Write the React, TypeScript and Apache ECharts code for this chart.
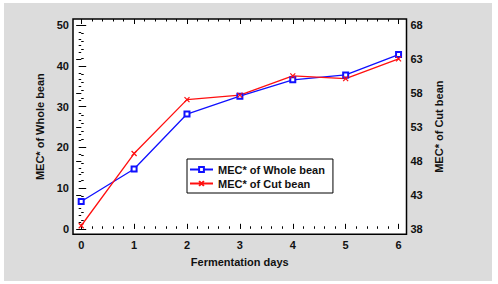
import React, { useEffect, useRef } from "react";
import * as echarts from "echarts";

const days = [0, 1, 2, 3, 4, 5, 6];
const wholeBean = [6.7, 14.7, 28.2, 32.6, 36.6, 37.8, 42.8];
const cutBean = [38.45, 49.1, 57.05, 57.7, 60.55, 60.13, 63.05];
const leftTicks = [0, 10, 20, 30, 40, 50];
const rightTicks = [38, 43, 48, 53, 58, 63, 68];
const xTicks = [0, 1, 2, 3, 4, 5, 6];

const FONT = "Arial, 'Liberation Sans', sans-serif";

function range(a: number, b: number, step: number): number[] {
  const out: number[] = [];
  for (let v = a; v <= b + 1e-9; v += step) out.push(Math.round(v * 1000) / 1000);
  return out;
}

const xMinor = range(0, 6.0, 0.2);
const leftMinor = range(0, 50, 2);
const rightMinor = range(38, 68, 1);

const X_MIN = -0.155;
const X_MAX = 6.15;
const L_MIN = -1.35;
const L_MAX = 51.55;
const R_MIN = 38 + 0.6 * L_MIN;
const R_MAX = 38 + 0.6 * L_MAX;

const labelStyle = {
  color: "#111",
  fontFamily: FONT,
  fontWeight: "bold" as const,
  fontSize: 11,
};

function tickAxisX(position: "top" | "bottom", values: number[], len: number, labels: boolean, extra: any = {}) {
  return {
    type: "value",
    position,
    min: X_MIN,
    max: X_MAX,
    axisLine: { show: false },
    splitLine: { show: false },
    axisTick: {
      show: true,
      inside: true,
      length: len,
      customValues: values,
      lineStyle: { color: "#000", width: 1 },
    },
    axisLabel: labels
      ? { show: true, customValues: xTicks, margin: 5, ...labelStyle }
      : { show: false },
    ...extra,
  };
}

function tickAxisY(
  position: "left" | "right",
  min: number,
  max: number,
  values: number[],
  len: number,
  labelValues: number[] | null,
  extra: any = {}
) {
  return {
    type: "value",
    position,
    min,
    max,
    axisLine: { show: false },
    splitLine: { show: false },
    axisTick: {
      show: true,
      inside: true,
      length: len,
      customValues: values,
      lineStyle: { color: "#000", width: 1 },
    },
    axisLabel: labelValues
      ? { show: true, customValues: labelValues, margin: 4, ...labelStyle }
      : { show: false },
    ...extra,
  };
}

export default function App() {
  const ref = useRef<HTMLDivElement>(null);

  useEffect(() => {
    if (!ref.current) return;
    const chart = echarts.init(ref.current, undefined, { renderer: "svg" });
    const crossPath = "path://M0,0L10,10M10,0L0,10";
    chart.setOption({
      animation: false,
      backgroundColor: "#ffffff",
      graphic: {
        elements: [
          {
            type: "rect",
            z: -100,
            shape: { x: 4, y: 3, width: 488, height: 278 },
            style: { fill: "#dcdcdc" },
            silent: true,
          },
        ],
      },
      grid: {
        left: 73,
        right: 91.5,
        top: 19,
        bottom: 49.7,
        show: true,
        backgroundColor: "#ffffff",
        borderColor: "#000",
        borderWidth: 1.5,
        containLabel: false,
      },
      legend: {
        orient: "vertical",
        left: 187,
        top: 159,
        padding: [4, 8, 3, 2],
        itemGap: 1,
        itemWidth: 23,
        itemHeight: 6,
        backgroundColor: "#ffffff",
        borderColor: "#000",
        borderWidth: 1,
        textStyle: { ...labelStyle, fontSize: 11, lineHeight: 13 },
        data: ["MEC* of Whole bean", "MEC* of Cut bean"],
      },
      xAxis: [
        tickAxisX("bottom", xTicks, 5, true, {
          name: "Fermentation days",
          nameLocation: "middle",
          nameGap: 22,
          nameTextStyle: { ...labelStyle, fontSize: 11 },
        }),
        tickAxisX("bottom", xMinor, 2.5, false),
        tickAxisX("top", xTicks, 5, false),
        tickAxisX("top", xMinor, 2.5, false),
      ],
      yAxis: [
        tickAxisY("left", L_MIN, L_MAX, leftTicks, 5, leftTicks, {
          name: "MEC* of Whole bean",
          nameLocation: "middle",
          nameRotate: 90,
          nameGap: 23,
          nameTextStyle: { ...labelStyle, fontSize: 11 },
        }),
        tickAxisY("left", L_MIN, L_MAX, leftMinor, 2.5, null),
        tickAxisY("right", R_MIN, R_MAX, rightTicks, 5, rightTicks, {
          name: "MEC* of Cut bean",
          nameLocation: "middle",
          nameRotate: 90,
          nameGap: 22,
          nameTextStyle: { ...labelStyle, fontSize: 11 },
        }),
        tickAxisY("right", R_MIN, R_MAX, rightMinor, 2.5, null),
      ],
      series: [
        {
          name: "MEC* of Whole bean",
          type: "line",
          xAxisIndex: 0,
          yAxisIndex: 0,
          data: days.map((d, i) => [d, wholeBean[i]]),
          symbol: "emptyRect",
          symbolSize: 5,
          lineStyle: { color: "#1010ff", width: 1.3 },
          itemStyle: { color: "#1010ff", borderColor: "#1010ff", borderWidth: 1.2 },
        },
        {
          name: "MEC* of Cut bean",
          type: "line",
          xAxisIndex: 0,
          yAxisIndex: 2,
          data: days.map((d, i) => [d, cutBean[i]]),
          symbol: crossPath,
          symbolSize: 5,
          lineStyle: { color: "#ff1010", width: 1.3 },
          itemStyle: { color: "#ff1010", borderColor: "#ff1010", borderWidth: 1.2 },
        },
      ],
    });
    return () => chart.dispose();
  }, []);

  return (
    <div
      ref={ref}
      style={{ position: "absolute", left: 0, top: 0, width: 498, height: 284 }}
    />
  );
}
